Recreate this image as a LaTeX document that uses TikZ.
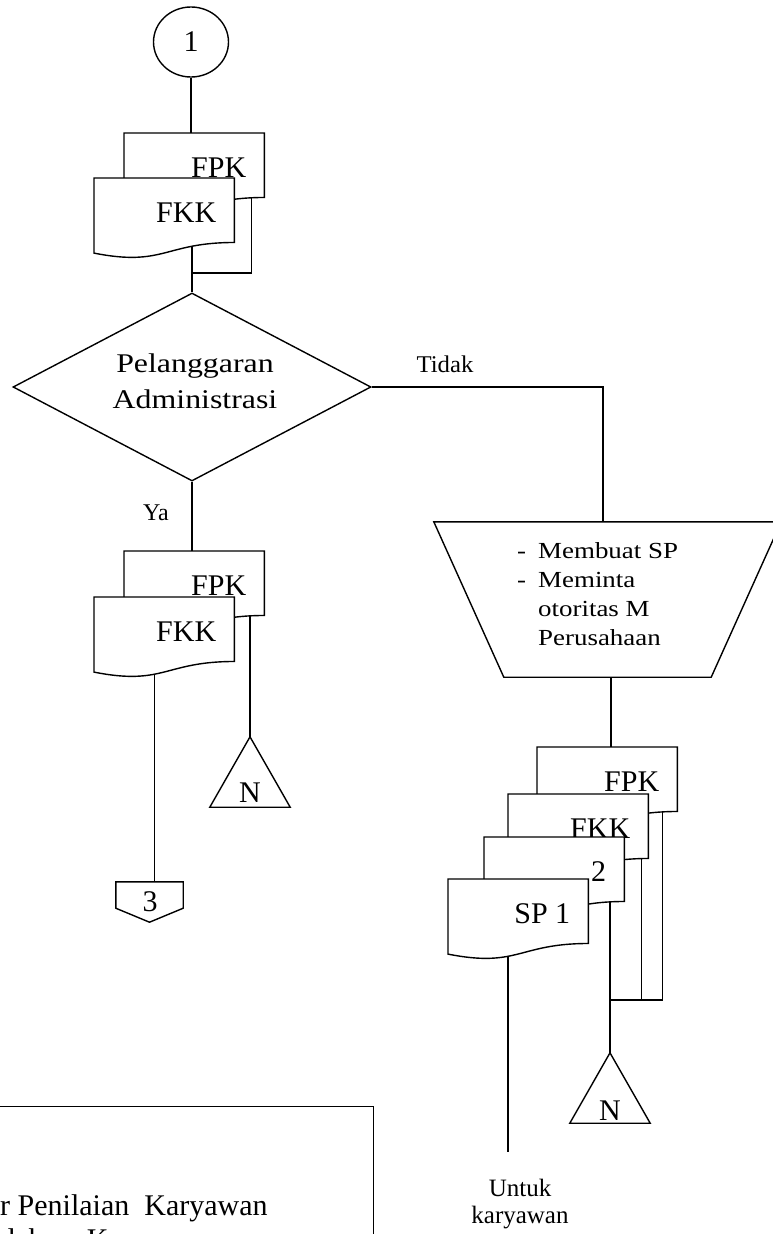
\documentclass[tikz,border=0pt]{standalone}
\usepackage{fontspec}
\setmainfont{Liberation Serif}
\usetikzlibrary{shapes.geometric,calc}
\pgfdeclarelayer{background}
\pgfsetlayers{background,main}

\tikzset{
  ln/.style={line width=1.4pt, line join=miter},
  doctext/.style={font=\fontsize{30}{36}\selectfont, inner sep=0pt, anchor=base east},
  docarea/.style={draw=none, inner sep=0pt, minimum width=140pt, minimum height=80pt, anchor=north west},
  lbl/.style={inner sep=0pt, anchor=base},
  bigtxt/.style={font=\fontsize{30}{36}\selectfont},
}

% document symbol: name, left x, top y, label
\newcommand\flowdoc[4]{%
  \node[docarea] (#1) at (#2,#3) {};
  \filldraw[ln, fill=white] (#1.north west) -- (#1.north east)
    -- ($(#1.north east)!0.802!(#1.south east)$)
    .. controls ($(#1.north)!0.802!(#1.south)$) and ($(#1.north)!1.107!(#1.south)$)
    .. ($(#1.north west)!0.934!(#1.south west)$) -- cycle;
  \node[doctext] at ([xshift=-18pt,yshift=-44pt]#1.north east) {#4};
}

\begin{document}
\begin{tikzpicture}[x=1pt,y=-1pt]
\useasboundingbox (0,0) rectangle (772,1234);

% on-page connector
\node[ellipse, draw, ln, minimum width=75pt, minimum height=70pt, inner sep=0pt, bigtxt] (c1) at (191,42) {1};

% first pair of forms
\flowdoc{fpk1}{124}{133}{FPK}
\flowdoc{fkk1}{94}{178}{FKK}

% decision
\node[diamond, draw, ln, minimum width=358pt, minimum height=188pt, inner sep=0pt] (dec) at (192,387) {};
\node[lbl, font=\fontsize{27}{32}\selectfont] (dq1) at (195,372) {\scalebox{1.18}[1]{Pelanggaran}};
\node[lbl, font=\fontsize{27}{32}\selectfont] (dq2) at (195,408) {\scalebox{1.18}[1]{Administrasi}};
\node[lbl, font=\fontsize{24}{28}\selectfont] (tidak) at (445,372) {\scalebox{1.03}[1]{Tidak}};
\node[lbl, font=\fontsize{24}{28}\selectfont] (ya) at (156,520) {Ya};

% second pair of forms
\flowdoc{fpk2}{124}{551}{FPK}
\flowdoc{fkk2}{94}{597}{FKK}

% archive triangle (left)
\node[draw=none, inner sep=0pt, minimum width=80pt, minimum height=70pt] (n1) at (250,772) {};
\draw[ln] (n1.south west) -- (n1.north) -- (n1.south east) -- cycle;
\node[lbl, bigtxt] at ([yshift=5pt]n1.south) {N};

% off-page connector
\node[draw=none, inner sep=0pt, minimum width=67pt, minimum height=40pt] (off3) at (149.5,902) {};
\draw[ln] (off3.north west) -- (off3.north east) -- ([yshift=14pt]off3.south east)
  -- (off3.south) -- ([yshift=14pt]off3.south west) -- cycle;
\node[lbl, bigtxt] at (150,911) {3};

% manual operation
\node[draw=none, inner sep=0pt, minimum width=347pt, minimum height=155pt] (mk) at (607.5,599.5) {};
\draw[ln] (mk.north west) -- (mk.north east) -- ([xshift=-70pt]mk.south east)
  -- ([xshift=70pt]mk.south west) -- cycle;
\node[anchor=base west, inner sep=0pt, font=\fontsize{23}{29}\selectfont] (mktext) at (517,558)
  {\scalebox{1.17}[1]{\begin{tabular}[t]{@{}l@{\hspace{10.3pt}}l@{}}-&Membuat SP\\-&Meminta\\&otoritas M\\&Perusahaan\end{tabular}}};

% stack of four forms
\flowdoc{fpk3}{537}{747}{FPK}
\flowdoc{fkk3}{508}{794}{FKK}
\flowdoc{doc2}{484}{837}{2}
\flowdoc{sp1}{448}{879}{SP 1}

% archive triangle (right)
\node[draw=none, inner sep=0pt, minimum width=80pt, minimum height=70pt] (n2) at (610,1088) {};
\draw[ln] (n2.south west) -- (n2.north) -- (n2.south east) -- cycle;
\node[lbl, bigtxt] at ([yshift=3pt]n2.south) {N};

\coordinate (j1) at (192,273);
\coordinate (jr) at (610,1000);
\coordinate (uend) at (508,1152);

\node[lbl, font=\fontsize{25}{28}\selectfont] (untuk1) at (520,1196) {Untuk};
\node[lbl, font=\fontsize{25}{28}\selectfont] (untuk2) at (520,1223) {karyawan};

% legend box
\node[draw, ln, inner sep=0pt, minimum width=380pt, minimum height=160pt, anchor=north east] (legend) at (374,1106) {};
\node[anchor=base west, inner sep=0pt, bigtxt] (leg1) at (0,1215) {r Penilaian\ \ Karyawan};
\node[anchor=base west, inner sep=0pt, bigtxt] (leg2) at (0,1249) {dahan\ \ Karyawan};

% connectors
\begin{pgfonlayer}{background}
\draw[ln] (c1.south) -- (c1.south |- fpk1.center);
\draw[ln] (dec.north |- fkk1.center) -- (dec.north);
\draw[ln] ([xshift=-13pt]fpk1.east) |- (j1);
\draw[ln] (dec.east) -| ([xshift=-4.5pt]mk.north);
\draw[ln] (dec.south) -- (dec.south |- fpk2.center);
\draw[ln] ([xshift=-10pt]fkk2.center) -- ([xshift=-10pt]fkk2.center |- off3.north);
\draw[ln] (n1.north |- fpk2.center) -- (n1.north);
\draw[ln] ([xshift=3.5pt]mk.south) -- ([xshift=3.5pt]mk.south |- fpk3.center);
\draw[ln] ([xshift=-15pt]fpk3.east) |- (jr);
\draw[ln] ([xshift=-7pt]fkk3.east) |- (jr);
\draw[ln] (n2.north |- doc2.center) -- (n2.north);
\draw[ln] (sp1.center -| uend) -- (uend);
\end{pgfonlayer}
\end{tikzpicture}
\end{document}
